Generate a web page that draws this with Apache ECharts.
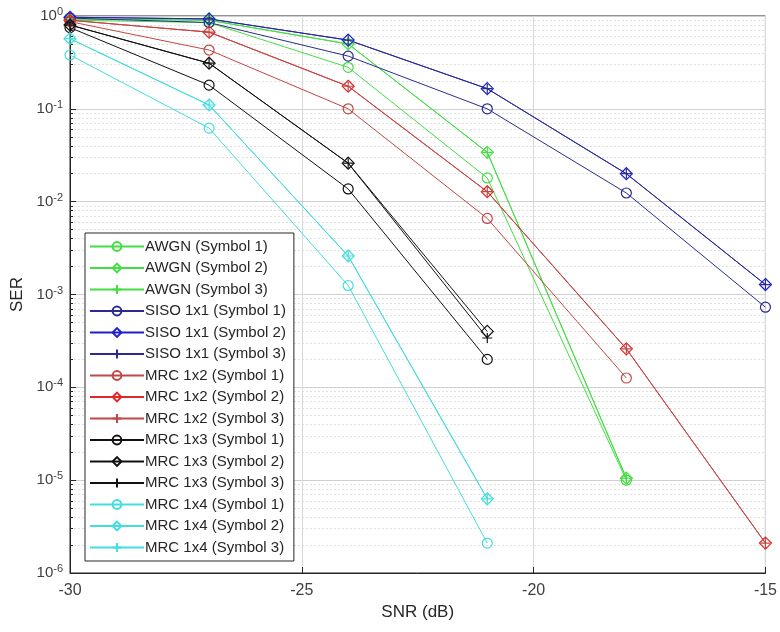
<!DOCTYPE html>
<html>
<head>
<meta charset="utf-8">
<script src="https://cdn.jsdelivr.net/npm/echarts@6/dist/echarts.min.js"></script>
<style>
  html, body { margin: 0; padding: 0; background: #fff; }
  #chart { width: 780px; height: 632px; }
</style>
</head>
<body>
<div id="chart"></div>
<script>
// SNR points (dB)
let snr = [-30, -27, -24, -21, -18, -15];

// SER values, null = no point
let awgn1 = [0.9, 0.85, 0.28, 0.018, 1.0e-5, null];
let awgn2 = [0.93, 0.9, 0.5, 0.034, 1.05e-5, null];
let awgn3 = [0.93, 0.9, 0.5, 0.034, 1.05e-5, null];
let siso1 = [0.95, 0.85, 0.37, 0.1, 0.0124, 7.3e-4];
let siso2 = [0.97, 0.93, 0.55, 0.165, 0.020, 1.28e-3];
let siso3 = [0.97, 0.93, 0.55, 0.165, 0.020, 1.28e-3];
let mrc2_1 = [0.87, 0.43, 0.1, 0.0066, 1.26e-4, null];
let mrc2_2 = [0.9, 0.67, 0.175, 0.0128, 2.6e-4, 2.1e-6];
let mrc2_3 = [0.9, 0.67, 0.175, 0.0128, 2.6e-4, 2.1e-6];
let mrc3_1 = [0.75, 0.18, 0.0137, 2.0e-4, null, null];
let mrc3_2 = [0.8, 0.31, 0.026, 4.0e-4, null, null];
let mrc3_3 = [0.8, 0.31, 0.026, 3.4e-4, null, null];
let mrc4_1 = [0.38, 0.062, 1.25e-3, 2.1e-6, null, null];
let mrc4_2 = [0.57, 0.11, 2.6e-3, 6.3e-6, null, null];
let mrc4_3 = [0.57, 0.11, 2.6e-3, 6.3e-6, null, null];

let green = '#44dd44';
let blue1 = '#2b2b8f';
let blue2 = '#1f1fcc';
let red1 = '#c04848';
let red2 = '#e02828';
let black = '#111111';
let cyan = '#44dddd';

let plusPath = 'path://M0,-10 L0,10 M-10,0 L10,0';

let list = [
    {name: 'AWGN (Symbol 1)', data: awgn1, color: green, symbol: 'circle'},
    {name: 'AWGN (Symbol 2)', data: awgn2, color: green, symbol: 'diamond'},
    {name: 'AWGN (Symbol 3)', data: awgn3, color: green, symbol: plusPath},
    {name: 'SISO 1x1 (Symbol 1)', data: siso1, color: blue1, symbol: 'circle'},
    {name: 'SISO 1x1 (Symbol 2)', data: siso2, color: blue2, symbol: 'diamond'},
    {name: 'SISO 1x1 (Symbol 3)', data: siso3, color: blue1, symbol: plusPath},
    {name: 'MRC 1x2 (Symbol 1)', data: mrc2_1, color: red1, symbol: 'circle'},
    {name: 'MRC 1x2 (Symbol 2)', data: mrc2_2, color: red2, symbol: 'diamond'},
    {name: 'MRC 1x2 (Symbol 3)', data: mrc2_3, color: red1, symbol: plusPath},
    {name: 'MRC 1x3 (Symbol 1)', data: mrc3_1, color: black, symbol: 'circle'},
    {name: 'MRC 1x3 (Symbol 2)', data: mrc3_2, color: black, symbol: 'diamond'},
    {name: 'MRC 1x3 (Symbol 3)', data: mrc3_3, color: black, symbol: plusPath},
    {name: 'MRC 1x4 (Symbol 1)', data: mrc4_1, color: cyan, symbol: 'circle'},
    {name: 'MRC 1x4 (Symbol 2)', data: mrc4_2, color: cyan, symbol: 'diamond'},
    {name: 'MRC 1x4 (Symbol 3)', data: mrc4_3, color: cyan, symbol: plusPath}
];

let series = [];
for (let i = 0; i < list.length; i++) {
    let item = list[i];
    let pts = [];
    for (let j = 0; j < snr.length; j++) {
        if (item.data[j] !== null) pts.push([snr[j], item.data[j]]);
    }
    series.push({
        name: item.name,
        type: 'line',
        data: pts,
        symbol: item.symbol,
        symbolSize: item.symbol == 'diamond' ? 12 : 10,
        showSymbol: true,
        animation: false,
        lineStyle: {color: item.color, width: 1},
        itemStyle: {color: 'rgba(255,255,255,0)', borderColor: item.color, borderWidth: 1.2},
        emphasis: {disabled: true}
    });
}

let option = {
    backgroundColor: '#fff',
    animation: false,
    grid: {left: 70, right: 12, top: 16, bottom: 59, show: true, borderColor: '#262626', borderWidth: 1},
    legend: {
        orient: 'vertical',
        left: 85,
        top: 233,
        itemWidth: 54,
        itemHeight: 11,
        itemGap: 6.5,
        padding: [6, 8, 6, 4],
        backgroundColor: '#fff',
        borderColor: '#262626',
        borderWidth: 1,
        selectedMode: false,
        textStyle: {fontFamily: 'Liberation Sans', fontSize: 15, color: '#262626', padding: [0, 0, 0, -4]},
        data: list.map(function (d) { return d.name; })
    },
    xAxis: {
        type: 'value',
        min: -30,
        max: -15,
        interval: 5,
        name: 'SNR (dB)',
        nameLocation: 'middle',
        nameGap: 31,
        nameTextStyle: {fontFamily: 'Liberation Sans', fontSize: 17, color: '#262626'},
        axisLine: {lineStyle: {color: '#262626'}},
        axisTick: {inside: true, length: 6, lineStyle: {color: '#262626'}},
        axisLabel: {fontFamily: 'Liberation Sans', fontSize: 16, color: '#404040', margin: 10},
        splitLine: {show: true, lineStyle: {color: '#d8d8d8', width: 1}}
    },
    yAxis: {
        type: 'log',
        logBase: 10,
        min: 1e-6,
        max: 1,
        name: 'SER',
        nameLocation: 'middle',
        nameGap: 42,
        nameTextStyle: {fontFamily: 'Liberation Sans', fontSize: 17, color: '#262626'},
        axisLine: {lineStyle: {color: '#262626'}},
        axisTick: {inside: true, length: 6, lineStyle: {color: '#262626'}},
        minorTick: {show: true, splitNumber: 9, length: 3, lineStyle: {color: '#262626'}},
        minorSplitLine: {show: true, lineStyle: {color: '#e0e0e0', type: [2, 2], width: 1}},
        splitLine: {show: true, lineStyle: {color: '#d0d0d0', width: 1}},
        axisLabel: {
            margin: 7,
            formatter: function (v) {
                let e = Math.round(Math.log10(v));
                return '{b|10}{s|' + e + '}';
            },
            rich: {
                b: {fontFamily: 'Liberation Sans', fontSize: 15, color: '#404040'},
                s: {fontFamily: 'Liberation Sans', fontSize: 11, color: '#404040', verticalAlign: 'top', padding: [0, 0, 8, 0]}
            }
        }
    },
    series: series
};

let myChart = echarts.init(document.getElementById('chart'));
myChart.setOption(option, true);
</script>
</body>
</html>
